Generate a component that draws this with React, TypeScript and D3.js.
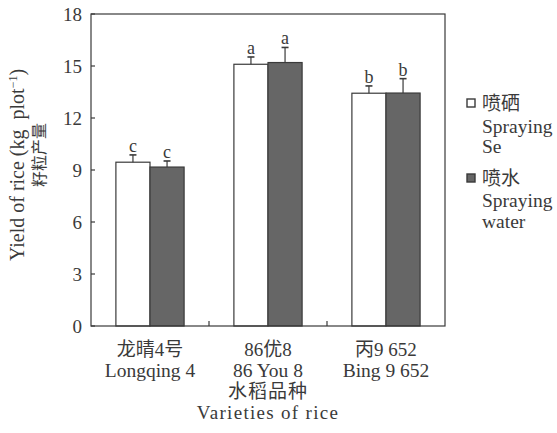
import React from 'react'
import * as d3 from 'd3'

const varietiesCn = ['龙晴4号', '86优8', '丙9 652']
const varietiesEn = ['Longqing 4', '86 You 8', 'Bing 9 652']
const treatments = ['se', 'water']
const seYield = [9.45, 15.1, 13.43]
const seErr = [0.42, 0.42, 0.42]
const waterYield = [9.17, 15.2, 13.44]
const waterErr = [0.35, 0.87, 0.83]
const seLetters = ['c', 'a', 'b']
const waterLetters = ['c', 'a', 'b']
const yTicks = [0, 3, 6, 9, 12, 15, 18]

const serif = '"Liberation Serif", "Times New Roman", "Noto Sans CJK SC", serif'
const fills: Record<string, string> = { se: '#ffffff', water: '#666666' }
const ink = '#3a3a3a'

export default function App() {
  const width = 557
  const height = 433
  const margin = { top: 14, right: 112, bottom: 107, left: 91 }

  const x = d3
    .scaleBand()
    .domain(varietiesEn)
    .range([margin.left, width - margin.right])
    .paddingInner(0)
    .paddingOuter(0)

  // two bars per variety, ~34px each, centred in the band
  const inner = d3
    .scaleBand()
    .domain(treatments)
    .range([0, x.bandwidth()])
    .paddingOuter(0.73)
    .paddingInner(0)

  const y = d3
    .scaleLinear()
    .domain([0, 18])
    .range([height - margin.bottom, margin.top])

  const bars = varietiesEn.flatMap((v, i) => [
    { v, t: 'se', value: seYield[i], err: seErr[i], letter: seLetters[i] },
    { v, t: 'water', value: waterYield[i], err: waterErr[i], letter: waterLetters[i] }
  ])

  const x0 = margin.left
  const x1 = width - margin.right
  const y0 = y(0)
  const yTop = y(18)

  return (
    <svg
      width={width}
      height={height}
      style={{ position: 'absolute', left: 0, top: 0, background: '#fff' }}
    >
      {/* bars */}
      {bars.map((b, i) => {
        const bx = (x(b.v) as number) + (inner(b.t) as number)
        const bw = inner.bandwidth()
        const cx = bx + bw / 2
        const top = y(b.value + b.err)
        return (
          <g key={i}>
            <rect
              x={bx}
              y={y(b.value)}
              width={bw}
              height={y0 - y(b.value)}
              fill={fills[b.t]}
              stroke={ink}
              strokeWidth={1.2}
            />
            <line x1={cx} x2={cx} y1={y(b.value)} y2={top} stroke={ink} strokeWidth={1.2} />
            <line x1={cx - 3.5} x2={cx + 3.5} y1={top} y2={top} stroke={ink} strokeWidth={1.6} />
            <text
              x={cx}
              y={top - 3}
              textAnchor="middle"
              fontFamily={serif}
              fontSize={18}
              fill={ink}
            >
              {b.letter}
            </text>
          </g>
        )
      })}

      {/* frame */}
      <rect x={x0} y={yTop} width={x1 - x0} height={y0 - yTop} fill="none" stroke={ink} strokeWidth={1.2} />

      {/* y ticks */}
      {yTicks.map(t => (
        <g key={t}>
          <line x1={x0} x2={x0 + 4} y1={y(t)} y2={y(t)} stroke={ink} strokeWidth={1.2} />
          <text
            x={x0 - 9}
            y={y(t)}
            dy="0.35em"
            textAnchor="end"
            fontFamily={serif}
            fontSize={19}
            fill={ink}
          >
            {t}
          </text>
        </g>
      ))}

      {/* x group separators */}
      {varietiesEn.slice(1).map(v => (
        <line
          key={v}
          x1={x(v) as number}
          x2={x(v) as number}
          y1={y0}
          y2={y0 - 5}
          stroke={ink}
          strokeWidth={1.2}
        />
      ))}

      {/* x labels */}
      {varietiesEn.map((v, i) => {
        const cx = (x(v) as number) + x.bandwidth() / 2
        return (
          <g key={v} fontFamily={serif} fill={ink} textAnchor="middle">
            <text x={cx} y={356} fontSize={19}>
              {varietiesCn[i]}
            </text>
            <text x={cx} y={377} fontSize={19.5}>
              {v}
            </text>
          </g>
        )
      })}
      <text
        x={(x0 + x1) / 2}
        y={398}
        textAnchor="middle"
        fontFamily={serif}
        fontSize={19}
        letterSpacing={1}
        fill={ink}
      >
        水稻品种
      </text>
      <text
        x={(x0 + x1) / 2}
        y={419}
        textAnchor="middle"
        fontFamily={serif}
        fontSize={19}
        letterSpacing={1.3}
        fill={ink}
      >
        Varieties of rice
      </text>

      {/* y label */}
      <g fontFamily={serif} fill={ink} textAnchor="middle">
        <text
          transform="translate(17,165) rotate(-90)"
          dy="0.35em"
          fontSize={20}
          style={{ whiteSpace: 'pre' }}
        >
          {'Yield of rice (kg  plot'}
          <tspan dy="-7" fontSize={12}>−1</tspan>
          <tspan dy="7">)</tspan>
        </text>
        <text transform="translate(39,155) rotate(-90)" dy="0.35em" fontSize={16}>
          籽粒产量
        </text>
      </g>

      {/* legend */}
      <g fontFamily={serif} fill={ink} fontSize={19.5}>
        <rect x={467} y={99} width={8} height={8} fill={fills.se} stroke={ink} strokeWidth={1.4} />
        <text x={482} y={110} fontSize={19}>喷硒</text>
        <text x={482} y={133}>Spraying</text>
        <text x={482} y={153}>Se</text>
        <rect x={467} y={174} width={8} height={8} fill={fills.water} stroke={ink} strokeWidth={1.4} />
        <text x={482} y={185} fontSize={19}>喷水</text>
        <text x={482} y={207}>Spraying</text>
        <text x={482} y={228}>water</text>
      </g>
    </svg>
  )
}
